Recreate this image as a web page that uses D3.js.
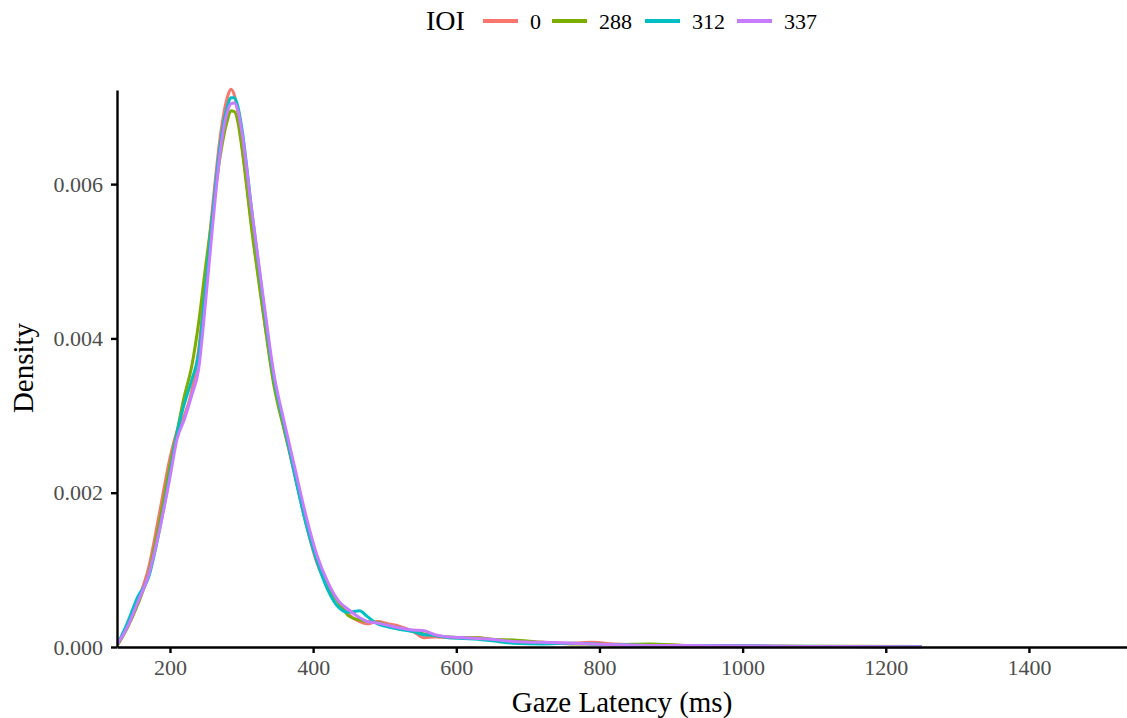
<!DOCTYPE html>
<html>
<head>
<meta charset="utf-8">
<script src="https://cdn.jsdelivr.net/npm/d3@7"></script>
<style>
  body { margin: 0; background: #fff; }
  text { font-family: "Liberation Serif", "Times New Roman", serif; }
</style>
</head>
<body>
<svg id="chart"></svg>
<script>
const width = 1127;
const height = 718;

// --- Data (density x 1e-3) ---
const latency = [127,140,155,170,185,200,210,220,230,240,250,260,270,280,285,290,295,300,315,330,345,360,375,390,405,420,435,450,465,475,490,505,520,540,555,570,590,610,630,650,680,720,760,790,820,870,920,980,1050,1150,1250];

const ioiLevels = ["0", "288", "312", "337"];
const ioiColors = ["#F8766D", "#7CAE00", "#00BFC4", "#C77CFF"];

const dens0   = [.03,.26,.6,1.02,1.72,2.45,2.8,3.0,3.3,3.85,4.8,5.75,6.6,7.12,7.23,7.15,6.92,6.55,5.4,4.35,3.45,2.8,2.2,1.6,1.1,0.8,0.6,0.42,0.33,0.3,0.33,0.3,0.27,0.2,0.12,0.13,0.12,0.12,0.12,0.09,0.07,0.06,0.05,0.06,0.04,0.03,0.02,0.015,0.01,0.005,0.002];
const dens288 = [.03,.24,.55,.95,1.6,2.35,2.8,3.25,3.62,4.2,4.95,5.65,6.35,6.82,6.95,6.94,6.8,6.5,5.35,4.35,3.4,2.8,2.25,1.65,1.15,0.8,0.58,0.4,0.35,0.33,0.32,0.28,0.25,0.2,0.17,0.15,0.13,0.12,0.12,0.1,0.09,0.06,0.04,0.04,0.03,0.04,0.02,0.01,0.01,0.01,0.006];
const dens312 = [.04,.3,.65,.9,1.5,2.25,2.78,3.15,3.45,3.8,4.7,5.65,6.5,7.0,7.12,7.12,7.0,6.75,5.6,4.5,3.5,2.85,2.2,1.6,1.12,0.75,0.52,0.45,0.47,0.4,0.3,0.26,0.23,0.2,0.16,0.15,0.12,0.11,0.1,0.08,0.05,0.04,0.05,0.04,0.03,0.02,0.02,0.02,0.01,0.005,0.003];
const dens337 = [.04,.25,.58,.93,1.5,2.2,2.7,2.95,3.25,3.6,4.5,5.5,6.4,6.93,7.04,7.05,6.95,6.7,5.6,4.55,3.55,2.9,2.3,1.7,1.2,0.85,0.6,0.48,0.38,0.33,0.31,0.28,0.25,0.22,0.21,0.16,0.13,0.12,0.11,0.1,0.07,0.06,0.05,0.04,0.03,0.02,0.02,0.015,0.01,0.005,0.002];

const xTicks = [200, 400, 600, 800, 1000, 1200, 1400];
const yTicks = [0, 0.002, 0.004, 0.006];

const series = [dens0, dens288, dens312, dens337].map((vals, i) => ({
  key: ioiLevels[i],
  color: ioiColors[i],
  values: latency.map((x, j) => ({x: x, y: vals[j] / 1000}))
}));

// --- SVG ---
const svg = d3.select("#chart")
  .attr("width", width)
  .attr("height", height);

const margin = {top: 90, right: 0, bottom: 71, left: 117};

const x = d3.scaleLinear()
  .domain([126, 1537])
  .range([margin.left, width - margin.right]);

const y = d3.scaleLinear()
  .domain([0, 0.00722])
  .range([height - margin.bottom, margin.top]);

// --- Lines ---
const line = d3.line()
  .x(d => x(d.x))
  .y(d => y(d.y))
  .curve(d3.curveMonotoneX);

svg.append("g")
  .selectAll("path")
  .data(series)
  .join("path")
  .attr("fill", "none")
  .attr("stroke", d => d.color)
  .attr("stroke-width", 3)
  .attr("stroke-linejoin", "round")
  .attr("d", d => line(d.values));

// --- Axes ---
const xAxis = svg.append("g")
  .attr("transform", `translate(0,${height - margin.bottom})`)
  .call(d3.axisBottom(x).tickValues(xTicks).tickSize(6).tickSizeOuter(0).tickPadding(6)
    .tickFormat(d3.format("d")));

const yAxis = svg.append("g")
  .attr("transform", `translate(${margin.left},0)`)
  .call(d3.axisLeft(y).tickValues(yTicks).tickSize(6).tickSizeOuter(0).tickPadding(8)
    .tickFormat(d3.format(".3f")));

[xAxis, yAxis].forEach(ax => {
  ax.select(".domain").attr("stroke", "#000").attr("stroke-width", 2.4);
  ax.selectAll(".tick line").attr("stroke", "#000").attr("stroke-width", 2.4);
  ax.selectAll(".tick text")
    .attr("fill", "#4d4d4d")
    .attr("font-size", 22)
    .style("font-family", "'Liberation Serif', serif");
});

// Axis titles
svg.append("text")
  .attr("x", 622)
  .attr("y", 712)
  .attr("text-anchor", "middle")
  .attr("font-size", 29)
  .attr("fill", "#000")
  .text("Gaze Latency (ms)");

svg.append("text")
  .attr("transform", `translate(33,368) rotate(-90)`)
  .attr("text-anchor", "middle")
  .attr("font-size", 29)
  .attr("fill", "#000")
  .text("Density");

// --- Legend ---
const legend = svg.append("g").attr("transform", "translate(426,0)");

legend.append("text")
  .attr("x", 0)
  .attr("y", 30)
  .attr("font-size", 28)
  .attr("fill", "#000")
  .text("IOI");

const legendX = [57, 126, 219, 311];
series.forEach((s, i) => {
  legend.append("line")
    .attr("x1", legendX[i])
    .attr("x2", legendX[i] + 35)
    .attr("y1", 21)
    .attr("y2", 21)
    .attr("stroke", s.color)
    .attr("stroke-width", 4);
  legend.append("text")
    .attr("x", legendX[i] + 47)
    .attr("y", 29)
    .attr("font-size", 22)
    .attr("fill", "#000")
    .text(s.key);
});
</script>
</body>
</html>
